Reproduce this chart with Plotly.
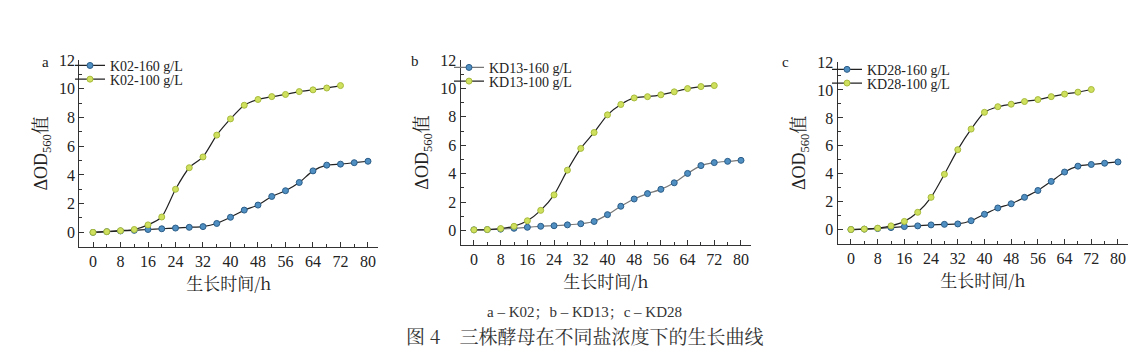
import plotly.graph_objects as go

W, H = 1138, 358

# ---------------- data ----------------
time_160 = [0, 4, 8, 12, 16, 20, 24, 28, 32, 36, 40, 44, 48, 52, 56, 60, 64, 68, 72, 76, 80]
time_100 = [0, 4, 8, 12, 16, 20, 24, 28, 32, 36, 40, 44, 48, 52, 56, 60, 64, 68, 72]

k02_160 = [0.00, 0.05, 0.10, 0.14, 0.20, 0.25, 0.30, 0.35, 0.40, 0.62, 1.05, 1.55, 1.90,
           2.50, 2.90, 3.47, 4.28, 4.68, 4.75, 4.85, 4.95]
k02_100 = [0.00, 0.05, 0.12, 0.20, 0.52, 1.07, 3.00, 4.50, 5.25, 6.77, 7.90, 8.85, 9.25,
           9.45, 9.60, 9.80, 9.92, 10.05, 10.22]

kd13_160 = [0.05, 0.07, 0.10, 0.16, 0.23, 0.30, 0.34, 0.40, 0.48, 0.64, 1.12, 1.71, 2.22,
            2.60, 2.90, 3.36, 4.02, 4.57, 4.78, 4.87, 4.94]
kd13_100 = [0.05, 0.07, 0.14, 0.30, 0.69, 1.42, 2.51, 4.25, 5.78, 6.90, 8.14, 8.87, 9.33,
            9.42, 9.55, 9.76, 9.99, 10.13, 10.20]

kd28_160 = [0.02, 0.05, 0.09, 0.16, 0.23, 0.28, 0.35, 0.39, 0.42, 0.65, 1.11, 1.56, 1.86,
            2.32, 2.81, 3.46, 4.13, 4.55, 4.67, 4.76, 4.85]
kd28_100 = [0.02, 0.05, 0.12, 0.28, 0.60, 1.25, 2.32, 3.97, 5.73, 7.20, 8.40, 8.80, 8.98,
            9.17, 9.31, 9.52, 9.70, 9.84, 10.03]

strains = ["K02", "KD13", "KD28"]
panel_letters = ["a", "b", "c"]
series_160 = [k02_160, kd13_160, kd28_160]
series_100 = [k02_100, kd13_100, kd28_100]

x_ticks = [0, 8, 16, 24, 32, 40, 48, 56, 64, 72, 80]
y_ticks = [0, 2, 4, 6, 8, 10, 12]
x_title = "生长时间/h"
y_title = "ΔOD<sub>560</sub>值"
caption1 = "a – K02；b – KD13；c – KD28"
caption2 = "图 4　三株酵母在不同盐浓度下的生长曲线"

# ---------------- layout geometry (pixels) ----------------
# plot boxes: (left, right, top, bottom) in px
boxes = [(71.25, 370.3, 45, 236), (452.6, 743.0, 45, 234), (829.6, 1120.0, 47, 233)]
legend_x = [62, 441, 819]
legend_rows = [(51, 65), (53, 67), (55, 69)]
letter_pos = [(32, 37), (407, 36), (783, 37)]
X_RANGE = [-4, 83]
Y_RANGE = [-1, 12]

SERIF = "Liberation Serif, Times New Roman, serif"
CJK = "Noto Serif CJK SC, Noto Sans CJK SC, serif"

BLUE_FILL = "#4f8fc2"
BLUE_EDGE = "#2b5d88"
GREEN_FILL = "#cfe05e"
GREEN_EDGE = "#a8bb3c"

fig = go.Figure()
layout = dict(
    width=W, height=H,
    margin=dict(l=0, r=0, t=0, b=0),
    paper_bgcolor="white", plot_bgcolor="white",
    showlegend=True,
    annotations=[],
)

line_colors_160 = ["#222222", "#777777", "#222222"]

for i in range(3):
    n = "" if i == 0 else str(i + 1)
    xa, ya = "x" + n, "y" + n
    lg1 = "legend" + ("" if i == 0 else str(2 * i + 1))
    lg2 = "legend" + str(2 * i + 2)
    fig.add_trace(go.Scatter(
        x=time_160, y=series_160[i], xaxis=xa, yaxis=ya,
        mode="lines+markers", name=f"{strains[i]}-160 g/L",
        line=dict(color=line_colors_160[i], width=1.2, shape="spline", smoothing=0.6),
        marker=dict(symbol="circle", size=6, color=BLUE_FILL, line=dict(color=BLUE_EDGE, width=1)),
        legend=lg1,
    ))
    fig.add_trace(go.Scatter(
        x=time_100, y=series_100[i], xaxis=xa, yaxis=ya,
        mode="lines+markers", name=f"{strains[i]}-100 g/L",
        line=dict(color="#222222", width=1.2, shape="spline", smoothing=0.6),
        marker=dict(symbol="circle", size=6, color=GREEN_FILL, line=dict(color=GREEN_EDGE, width=1)),
        legend=lg2,
    ))

    l, r, t, b = boxes[i]
    axis_common = dict(
        showline=True, linecolor="#333333", linewidth=1.2,
        showgrid=False, zeroline=False,
        ticks="inside", ticklen=5, tickwidth=1, tickcolor="#333333",
        tickfont=dict(family=SERIF, size=16, color="#222222"),
        mirror=False,
    )
    layout["xaxis" + n] = dict(
        axis_common,
        domain=[l / W, r / W], anchor=ya, range=X_RANGE,
        tickvals=x_ticks,
        minor=dict(ticks="inside", ticklen=3, dtick=4, tick0=0, tickcolor="#333333"),
        title=dict(text=x_title, font=dict(family=CJK, size=17, color="#222222"), standoff=6),
    )
    layout["yaxis" + n] = dict(
        axis_common,
        domain=[1 - b / H, 1 - t / H], anchor=xa, range=Y_RANGE,
        tickvals=y_ticks,
        minor=dict(ticks="inside", ticklen=3, dtick=1, tick0=0, tickcolor="#333333"),
        title=dict(text=y_title, font=dict(family=SERIF + ", " + CJK, size=18, color="#222222"), standoff=6),
    )
    for k, lg in enumerate([lg1, lg2]):
        layout[lg] = dict(
            x=legend_x[i] / W, xanchor="left",
            y=1 - legend_rows[i][k] / H, yanchor="middle",
            bgcolor="rgba(0,0,0,0)", borderwidth=0,
            font=dict(family=SERIF, size=14, color="#222222"),
            itemwidth=30,
        )
    layout["annotations"].append(dict(
        text=panel_letters[i], x=letter_pos[i][0] / W, y=1 - letter_pos[i][1] / H,
        xref="paper", yref="paper", showarrow=False,
        font=dict(family=SERIF, size=15, color="#222222"),
    ))

layout["annotations"].append(dict(
    text=caption1, x=577 / W, y=1 - 313 / H, xref="paper", yref="paper", showarrow=False,
    font=dict(family=SERIF + ", " + CJK, size=15, color="#333333"),
))
layout["annotations"].append(dict(
    text=caption2, x=576 / W, y=1 - 343 / H, xref="paper", yref="paper", showarrow=False,
    font=dict(family=CJK, size=19, color="#333333"),
))

fig.update_layout(**layout)
fig.write_html("out.html")
